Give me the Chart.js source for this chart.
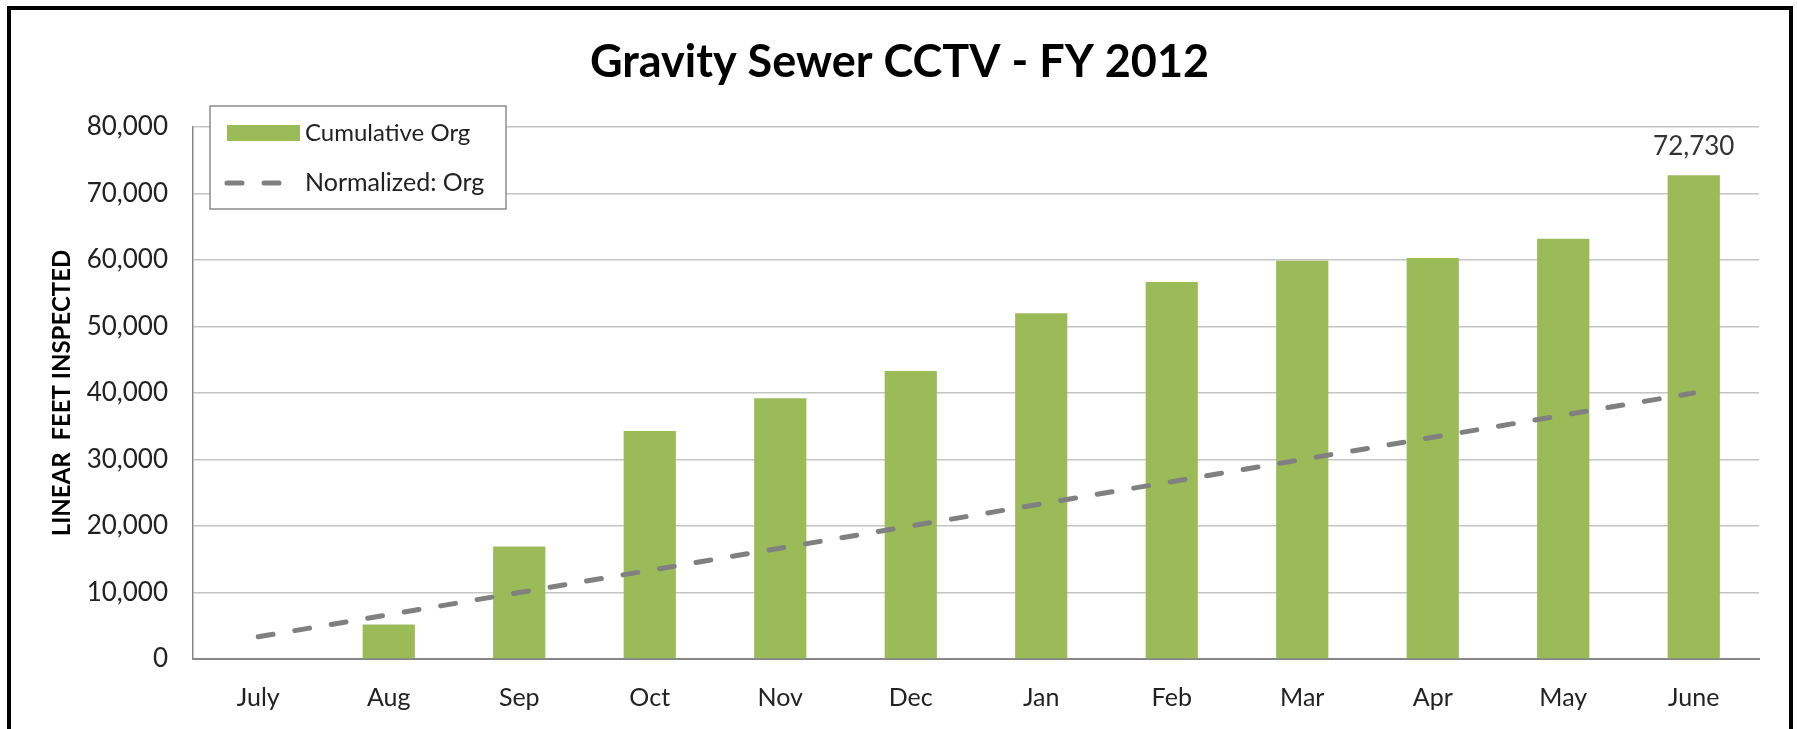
<!DOCTYPE html>
<html>
<head>
<meta charset="utf-8">
<title>Gravity Sewer CCTV - FY 2012</title>
<script src="https://cdn.jsdelivr.net/npm/chart.js@4.4.0/dist/chart.umd.min.js"></script>
<style>
  html, body { margin: 0; padding: 0; background: #fff; overflow: hidden; }
  #frame { position: absolute; left: 7px; top: 6px; width: 1778px; height: 800px; border: 4px solid #000; }
  #chart { position: absolute; left: 0; top: 0; }
</style>
</head>
<body>
<div id="frame"></div>
<canvas id="chart" width="1797" height="729"></canvas>
<script>
const months = ['July', 'Aug', 'Sep', 'Oct', 'Nov', 'Dec', 'Jan', 'Feb', 'Mar', 'Apr', 'May', 'June']
const cumulativeOrg = [0, 5200, 16900, 34300, 39200, 43300, 52000, 56700, 59900, 60300, 63200, 72730]
const normalizedOrg = [3333, 6667, 10000, 13333, 16667, 20000, 23333, 26667, 30000, 33333, 36667, 40000]
const yTicks = [0, 10000, 20000, 30000, 40000, 50000, 60000, 70000, 80000]

const FONT = 'Lato, "Open Sans", sans-serif'
const BAR_GREEN = '#9bbb59'
const LINE_GREY = '#808080'

// legend sits inside the plot, top-left, like the Excel original
const boxLegend = {
  id: 'boxLegend',
  afterDraw(chart) {
    const { ctx, chartArea } = chart
    const x = chartArea.left + 17
    const y = chartArea.top - 21
    const w = 296, h = 103
    ctx.save()
    ctx.fillStyle = '#fff'
    ctx.fillRect(x, y, w, h)
    ctx.strokeStyle = '#8c8c8c'
    ctx.lineWidth = 1.5
    ctx.strokeRect(x, y, w, h)

    ctx.fillStyle = BAR_GREEN
    ctx.fillRect(x + 17, y + 19, 73, 16)

    ctx.strokeStyle = LINE_GREY
    ctx.lineWidth = 5
    ctx.lineCap = 'round'
    ctx.setLineDash([15, 22])
    ctx.beginPath()
    ctx.moveTo(x + 17, y + 77)
    ctx.lineTo(x + 88, y + 77)
    ctx.stroke()

    ctx.setLineDash([])
    ctx.fillStyle = '#222'
    ctx.font = '24px ' + FONT
    ctx.textBaseline = 'middle'
    ctx.fillText('Cumulative Org', x + 95, y + 27)
    ctx.font = '25px ' + FONT
    ctx.fillText('Normalized: Org', x + 95, y + 77)
    ctx.restore()
  }
}

// value label over the last bar only
const endLabel = {
  id: 'endLabel',
  afterDatasetsDraw(chart) {
    const meta = chart.getDatasetMeta(0)
    const i = meta.data.length - 1
    const bar = meta.data[i]
    const { ctx } = chart
    ctx.save()
    ctx.fillStyle = '#333'
    ctx.font = '26px ' + FONT
    ctx.textAlign = 'center'
    ctx.textBaseline = 'middle'
    ctx.fillText(cumulativeOrg[i].toLocaleString('en-US'), bar.x, bar.y - 29)
    ctx.restore()
  }
}

new Chart(document.getElementById('chart'), {
  data: {
    labels: months,
    datasets: [
      {
        type: 'bar',
        label: 'Cumulative Org',
        data: cumulativeOrg,
        backgroundColor: BAR_GREEN,
        categoryPercentage: 1.0,
        barPercentage: 0.4,
        order: 2,
      },
      {
        type: 'line',
        label: 'Normalized: Org',
        data: normalizedOrg,
        borderColor: LINE_GREY,
        borderWidth: 5,
        borderDash: [15, 22],
        borderCapStyle: 'round',
        pointRadius: 0,
        tension: 0,
        fill: false,
        order: 1,
      }
    ]
  },
  options: {
    responsive: false,
    animation: false,
    layout: { padding: { top: 10, right: 38, bottom: 0, left: 40 } },
    scales: {
      x: {
        grid: { display: false, drawTicks: false },
        border: { display: true, color: '#868686', width: 2 },
        ticks: { color: '#222', font: { family: FONT, size: 25 }, padding: 24 },
        afterFit: (s) => { s.height = 70 },
      },
      y: {
        min: yTicks[0],
        max: yTicks[yTicks.length - 1],
        afterBuildTicks: (s) => { s.ticks = yTicks.map(v => ({ value: v })) },
        grid: { color: '#c4c4c4', lineWidth: 1.5, drawTicks: false },
        border: { display: true, color: '#868686', width: 1.5 },
        ticks: {
          color: '#222',
          font: { family: FONT, size: 26 },
          padding: 25,
          callback: (v) => v.toLocaleString('en-US'),
        },
        title: {
          display: true,
          text: 'LINEAR  FEET INSPECTED',
          color: '#000',
          font: { family: FONT, size: 24, weight: 'bold' },
          padding: { top: 8, bottom: 0 },
        },
        afterFit: (s) => { s.width = 153 },
      }
    },
    plugins: {
      title: {
        display: true,
        text: 'Gravity Sewer CCTV - FY 2012',
        color: '#000',
        font: { family: FONT, size: 45, weight: 'bold' },
        padding: { top: 25, bottom: 38 },
      },
      legend: { display: false },
      tooltip: { enabled: false },
    }
  },
  plugins: [boxLegend, endLabel]
})
</script>
</body>
</html>
